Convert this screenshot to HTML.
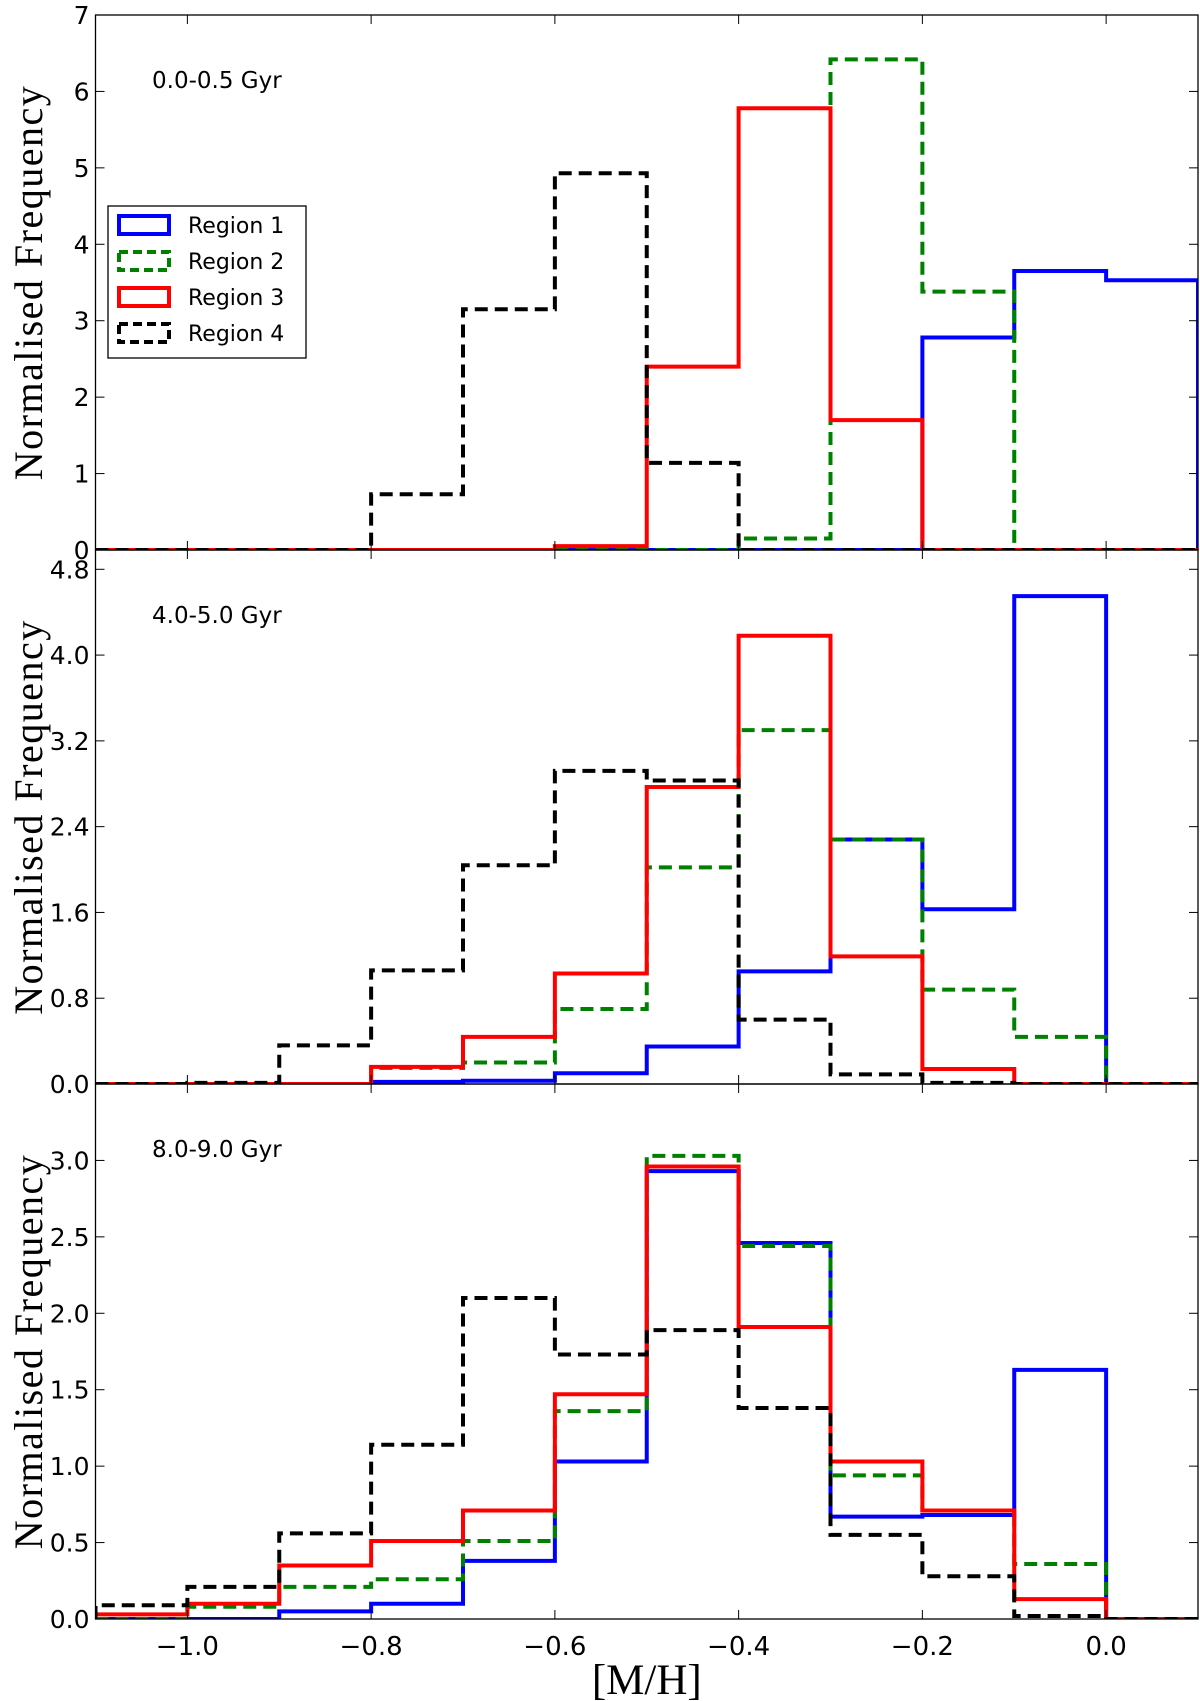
<!DOCTYPE html>
<html><head><meta charset="utf-8"><style>
html,body{margin:0;padding:0;background:#fff}
svg{display:block}
text{font-family:"DejaVu Sans","Liberation Sans",sans-serif}
.ser{font-family:"Liberation Serif","DejaVu Serif",serif}
</style></head><body>
<svg id="chart" width="1200" height="1701" viewBox="0 0 1200 1701" xmlns="http://www.w3.org/2000/svg"></svg>
<script>
const binEdges = [-1.1,-1.0,-0.9,-0.8,-0.7,-0.6,-0.5,-0.4,-0.3,-0.2,-0.1,0.0,0.1];
const xTickValues = [-1.0,-0.8,-0.6,-0.4,-0.2,0.0];
const xTickLabels = ["\u22121.0","\u22120.8","\u22120.6","\u22120.4","\u22120.2","0.0"];
const panelLabels = ["0.0-0.5 Gyr","4.0-5.0 Gyr","8.0-9.0 Gyr"];
const seriesNames = ["Region 1","Region 2","Region 3","Region 4"];
// panel 1 (0.0-0.5 Gyr)
const p1Region1 = [0,0,0,0,0,0,0,0,0,2.78,3.65,3.53];
const p1Region2 = [0,0,0,0,0,0,0,0.15,6.42,3.38,0,0];
const p1Region3 = [0,0,0,0,0,0.05,2.4,5.78,1.7,0,0,0];
const p1Region4 = [0,0,0,0.73,3.15,4.93,1.14,0,0,0,0,0];
// panel 2 (4.0-5.0 Gyr)
const p2Region1 = [0,0,0,0.02,0.03,0.1,0.35,1.05,2.28,1.63,4.55,0];
const p2Region2 = [0,0,0,0.15,0.2,0.7,2.02,3.3,2.28,0.88,0.44,0];
const p2Region3 = [0,0,0,0.16,0.44,1.03,2.77,4.18,1.19,0.14,0,0];
const p2Region4 = [0,0.01,0.36,1.06,2.04,2.92,2.83,0.6,0.09,0.01,0,0];
// panel 3 (8.0-9.0 Gyr)
const p3Region1 = [0,0,0.05,0.1,0.38,1.03,2.93,2.46,0.67,0.68,1.63,0];
const p3Region2 = [0,0.08,0.21,0.26,0.51,1.36,3.03,2.44,0.94,0.71,0.36,0];
const p3Region3 = [0.03,0.1,0.35,0.51,0.71,1.47,2.96,1.91,1.03,0.71,0.13,0];
const p3Region4 = [0.09,0.21,0.56,1.14,2.1,1.73,1.89,1.38,0.55,0.28,0.02,0];
const p1YTicks = [0,1,2,3,4,5,6,7];
const p1YLabels = ["0","1","2","3","4","5","6","7"];
const p2YTicks = [0,0.8,1.6,2.4,3.2,4.0,4.8];
const p2YLabels = ["0.0","0.8","1.6","2.4","3.2","4.0","4.8"];
const p3YTicks = [0,0.5,1.0,1.5,2.0,2.5,3.0];
const p3YLabels = ["0.0","0.5","1.0","1.5","2.0","2.5","3.0"];

const NS="http://www.w3.org/2000/svg";
const svg=document.getElementById('chart');
function mk(tag,attrs,parent){const e=document.createElementNS(NS,tag);for(const k in attrs)e.setAttribute(k,attrs[k]);(parent||svg).appendChild(e);return e;}
const L=95.5,R=1198,xmin=-1.1,xmax=0.1;
const X=v=>L+(v-xmin)/(xmax-xmin)*(R-L);
const colors=["#0000ff","#008000","#ff0000","#000000"];
const dashes=[null,"13,7",null,"13,7"];
const panels=[
 {top:15,bot:550,ymax:7,data:[p1Region1,p1Region2,p1Region3,p1Region4],ticks:p1YTicks,labels:p1YLabels,name:"panel-0-0.5-gyr"},
 {top:550,bot:1084,ymax:4.98,data:[p2Region1,p2Region2,p2Region3,p2Region4],ticks:p2YTicks,labels:p2YLabels,name:"panel-4-5-gyr"},
 {top:1084,bot:1619,ymax:3.5,data:[p3Region1,p3Region2,p3Region3,p3Region4],ticks:p3YTicks,labels:p3YLabels,name:"panel-8-9-gyr"}
];
panels.forEach((p,pi)=>{
 const g=mk('g',{});
 
 
 const Y=v=>p.bot-v/p.ymax*(p.bot-p.top);
 const cp='clip'+pi;
 const cl=mk('clipPath',{id:cp},g);mk('rect',{x:L,y:p.top-3,width:R-L,height:p.bot-p.top+3},cl);
 p.data.forEach((vals,si)=>{
  let d='M'+X(binEdges[0])+','+Y(0);
  vals.forEach((v,i)=>{d+=' L'+X(binEdges[i])+','+Y(v)+' L'+X(binEdges[i+1])+','+Y(v);});
  d+=' L'+X(binEdges[binEdges.length-1])+','+Y(0);
  const a={d:d,fill:'none',stroke:colors[si],'stroke-width':4,'clip-path':'url(#'+cp+')'};
  if(dashes[si])a['stroke-dasharray']=dashes[si];
  const path=mk('path',a,g);
  
  
 });
 mk('rect',{x:L,y:p.top,width:R-L,height:p.bot-p.top,fill:'none',stroke:'#000','stroke-width':1.3},g);
 xTickValues.forEach(v=>{
  mk('line',{x1:X(v),x2:X(v),y1:p.bot,y2:p.bot-9,stroke:'#000','stroke-width':1},g);
  mk('line',{x1:X(v),x2:X(v),y1:p.top,y2:p.top+9,stroke:'#000','stroke-width':1},g);
 });
 p.ticks.forEach((v,i)=>{
  mk('line',{x1:L,x2:L+9,y1:Y(v),y2:Y(v),stroke:'#000','stroke-width':1},g);
  mk('line',{x1:R,x2:R-9,y1:Y(v),y2:Y(v),stroke:'#000','stroke-width':1},g);
  const t=mk('text',{x:L-6,y:Y(v)+9,'text-anchor':'end','font-size':25},g);
  t.textContent=p.labels[i];
  
  
 });
 const pl=mk('text',{x:152,y:p.top+73,'font-size':23},g);
 pl.textContent=panelLabels[pi];
 
 
 const yl=mk('text',{x:0,y:0,'font-size':40,'text-anchor':'middle','class':'ser',transform:'translate(42,'+((p.top+p.bot)/2)+') rotate(-90)','letter-spacing':1.5},g);
 yl.textContent='Normalised Frequency';
 
 
});
xTickValues.forEach((v,i)=>{
 const t=mk('text',{x:X(v),y:1655,'text-anchor':'middle','font-size':26});
 t.textContent=xTickLabels[i];
 
 
});
const xt=mk('text',{x:(L+R)/2,y:1694,'text-anchor':'middle','font-size':43,'class':'ser'});
xt.textContent='[M/H]';


// legend
const lg=mk('g',{});


mk('rect',{x:108,y:206,width:198,height:152,fill:'#fff',stroke:'#000','stroke-width':1.3},lg);
seriesNames.forEach((n,i)=>{
 const y=225+i*36;
 const a={x:119,y:y-9,width:50,height:18,fill:'none',stroke:colors[i],'stroke-width':4};
 if(dashes[i])a['stroke-dasharray']='9,5';
 const r=mk('rect',a,lg);
 
 
 const t=mk('text',{x:188,y:y+8,'font-size':22},lg);
 t.textContent=n;
 
 
});
</script>
</body></html>
